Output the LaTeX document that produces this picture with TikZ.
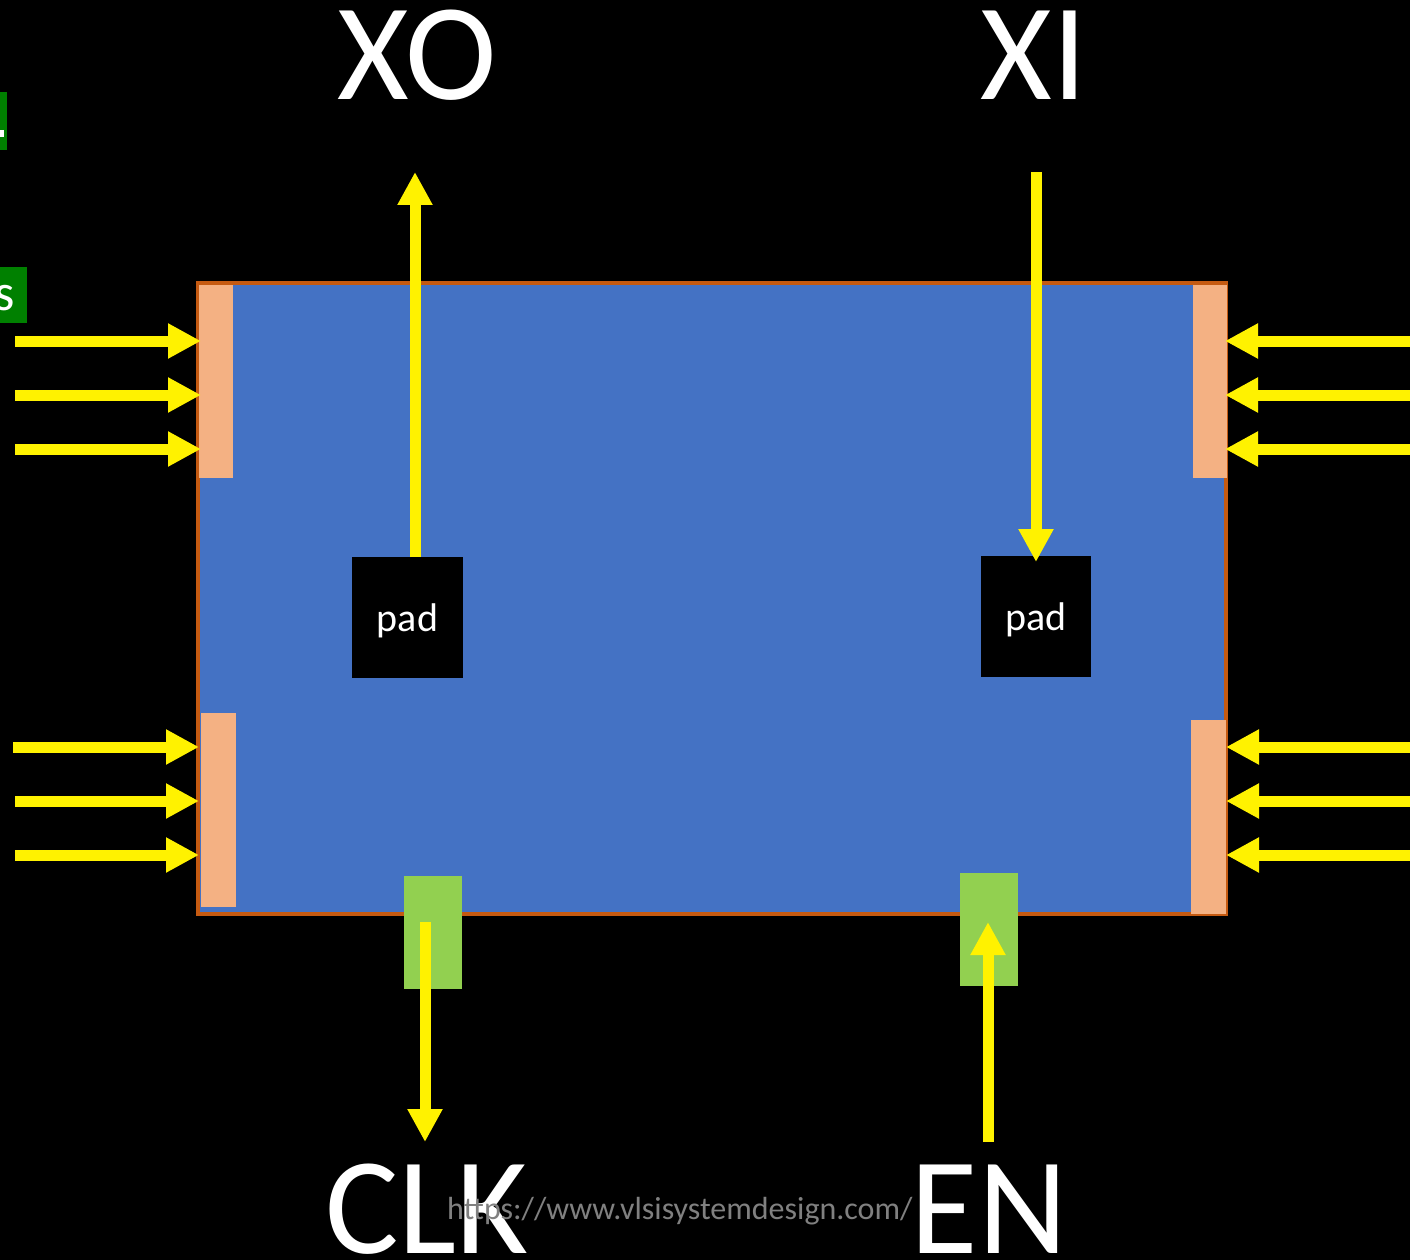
\documentclass[tikz,border=0pt]{standalone}
\usepackage{fontspec}
\setmainfont{Carlito}
\usetikzlibrary{arrows.meta}
\definecolor{chipblue}{HTML}{4472C4}
\definecolor{chipedge}{HTML}{C55A11}
\definecolor{iopad}{HTML}{F4B183}
\definecolor{clkpad}{HTML}{92D050}
\definecolor{tagg}{HTML}{008000}
\definecolor{wm}{HTML}{808080}
\tikzset{
  sig/.style={draw=yellow, line width=11pt, -{Triangle[width=33pt,length=33pt]}},
  padbox/.style={fill=black, draw=none, inner sep=0pt},
  padtext/.style={text=white, font=\fontsize{40}{42}\selectfont, anchor=base, inner sep=0pt},
  biglabel/.style={text=white, font=\fontsize{138}{140}\selectfont, inner sep=0pt, anchor=base},
}
\begin{document}
\begin{tikzpicture}[x=1pt,y=-1pt]
\useasboundingbox (0,0) rectangle (1410,1260);
\fill[black] (0,0) rectangle (1410,1260);
\clip (0,0) rectangle (1410,1260);
% partial tags at left
\fill[tagg] (-10,92) rectangle (7,150);
\fill[white] (0,130) rectangle (4,137);
\fill[tagg] (-10,267) rectangle (27,323);
\node[text=white, font=\fontsize{52}{54}\selectfont, anchor=base, inner sep=0pt] (stag) at (5,310) {s};
% chip
\node[fill=chipblue, draw=chipedge, line width=4pt, minimum width=1028pt, minimum height=631pt, inner sep=0pt] (chip) at (712,598.5) {};
% io pads
\fill[iopad] (199,285) rectangle (233,478);
\fill[iopad] (1193,285) rectangle (1227,478);
\fill[iopad] (201,713) rectangle (236,907);
\fill[iopad] (1191,720) rectangle (1226,914);
% green pads
\fill[clkpad] (404,876) rectangle (462,989);
\fill[clkpad] (960,873) rectangle (1018,986);
% black pads
\node[padbox, minimum width=111pt, minimum height=121pt] (padL) at (407.5,617.5) {};
\node[padtext] (padLt) at (407.5,631) {pad};
\node[padbox, minimum width=110pt, minimum height=121pt] (padR) at (1036,616.5) {};
\node[padtext] (padRt) at (1036,630) {pad};
% coordinates for arrows
\foreach \y [count=\i] in {341,395,449}{
  \coordinate (la\i) at (15,\y); \coordinate (lt\i) at (201,\y);
  \coordinate (ra\i) at (1415,\y); \coordinate (rt\i) at (1225,\y);
}
\foreach \y/\s [count=\i] in {747/13,801/15,855/15}{
  \coordinate (lb\i) at (\s,\y); \coordinate (lbt\i) at (199,\y);
  \coordinate (rb\i) at (1415,\y); \coordinate (rbt\i) at (1226,\y);
}
\foreach \i in {1,2,3}{
  \draw[sig] (la\i) -- (lt\i);
  \draw[sig] (ra\i) -- (rt\i);
  \draw[sig] (lb\i) -- (lbt\i);
  \draw[sig] (rb\i) -- (rbt\i);
}
\coordinate (xoS) at (415,557);
\coordinate (xoT) at (415,172);
\coordinate (xiS) at (1036,172);
\coordinate (xiT) at (1036,562);
\coordinate (clkS) at (425,922);
\coordinate (clkT) at (425,1142);
\coordinate (enS) at (988,1142);
\coordinate (enT) at (988,922);
\draw[sig] (xoS) -- (xoT);
\draw[sig] (xiS) -- (xiT);
\draw[sig] (clkS) -- (clkT);
\draw[sig] (enS) -- (enT);
% labels
\node[biglabel] (XO) at (417,100) {XO};
\node[biglabel] (XI) at (1034,100) {XI};
\node[biglabel] (CLK) at (427,1253) {CLK};
\node[biglabel] (EN) at (989,1253) {EN};
% watermark
\node[text=wm, font=\fontsize{32}{34}\selectfont, anchor=base west, inner sep=0pt] (wmk) at (447,1219) {https://www.vlsisystemdesign.com/};
\end{tikzpicture}
\end{document}
